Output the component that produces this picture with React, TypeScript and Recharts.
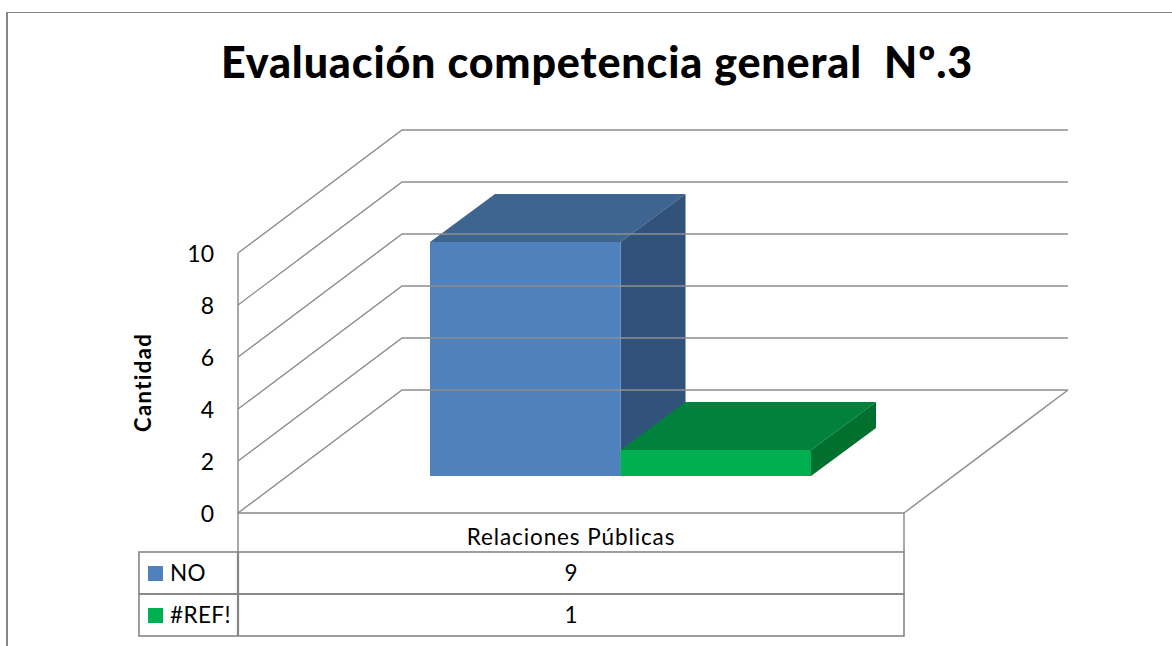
import React from 'react';
import { BarChart, Bar, XAxis, YAxis, ReferenceLine } from 'recharts';

const categories = ['Relaciones Públicas'];
const seriesNames = ['NO', '#REF!'];
const noValues = [9];
const refValues = [1];
const yTicks = [0, 2, 4, 6, 8, 10];

const data = categories.map((category, i) => ({
  category,
  no: noValues[i],
  ref: refValues[i],
}));

const FONT = 'Lato, sans-serif';
const AXIS = '#868686';
const GRID = '#8e8e8e';

// floor depth of the fake 3D box
const FLOOR_DX = 164;
const FLOOR_DY = 123;
// bars stand part way back on the floor
const BAR_DX = 49;
const BAR_DY = 37;
const DEPTH_DX = 65;
const DEPTH_DY = 48;

const box3d = (front: string, top: string, side: string) => (props: any) => {
  const { x, y, width, height } = props;
  const l = x + BAR_DX;
  const t = y - BAR_DY;
  const r = l + width;
  const b = t + height;
  return (
    <g>
      <polygon points={`${l},${t} ${l + DEPTH_DX},${t - DEPTH_DY} ${r + DEPTH_DX},${t - DEPTH_DY} ${r},${t}`} fill={top} />
      <polygon points={`${r},${t} ${r + DEPTH_DX},${t - DEPTH_DY} ${r + DEPTH_DX},${b - DEPTH_DY} ${r},${b}`} fill={side} />
      <rect x={l} y={t} width={width} height={height} fill={front} />
    </g>
  );
};

// wall + back wall gridline for one tick
const WallLine = (props: any) => {
  const { x1, y1, x2 } = props;
  const bx = x1 + FLOOR_DX;
  const by = y1 - FLOOR_DY;
  const backRight = x2 + FLOOR_DX;
  return (
    <g fill="none" stroke={GRID} strokeWidth={1.4}>
      <polyline points={`${x1},${y1} ${bx},${by} ${backRight},${by}`} />
      {y1 > 500 && <polyline points={`${backRight},${by} ${x2},${y1}`} />}
    </g>
  );
};

// category label plus the data table under the axis
const TableTick = (props: any) => {
  const { x, y } = props;
  const left = x - 333;
  const right = x + 333;
  const rowTop = y + 33;
  const rowH = 42;
  const keyLeft = left - 99;
  const colors = ['#4F81BD', '#00B050'];
  const values = [noValues[0], refValues[0]];
  return (
    <g fontFamily={FONT} fontSize={22.5} fill="#000">
      <text x={x} y={y + 26} textAnchor="middle" letterSpacing={0.9}>{categories[0]}</text>
      <line x1={right} y1={y - 6} x2={right} y2={rowTop} stroke={AXIS} strokeWidth={1.4} />
      <line x1={left} y1={y - 6} x2={left} y2={rowTop} stroke={AXIS} strokeWidth={1.4} />
      {seriesNames.map((name, i) => {
        const top = rowTop + i * rowH;
        return (
          <g key={name}>
            <rect x={keyLeft} y={top} width={right - keyLeft} height={rowH} fill="none" stroke={AXIS} strokeWidth={1.6} />
            <line x1={left} y1={top} x2={left} y2={top + rowH} stroke={AXIS} strokeWidth={2.2} />
            <rect x={keyLeft + 9} y={top + 14} width={15} height={15} fill={colors[i]} />
            <text x={keyLeft + 31} y={top + 29} letterSpacing={0.4}>{name}</text>
            <text x={x} y={top + 29} textAnchor="middle">{values[i]}</text>
          </g>
        );
      })}
    </g>
  );
};

export default function App() {
  return (
    <div style={{ position: 'absolute', left: 0, top: 0, width: 1172, height: 646, background: '#fff', overflow: 'hidden' }}>
      <div style={{ position: 'absolute', left: 6, top: 12, width: 1300, height: 800, border: '1px solid #868686', borderLeftWidth: 2 }} />
      <BarChart
        width={1172}
        height={646}
        data={data}
        margin={{ top: 253, right: 268, bottom: 0, left: 138 }}
        barSize={190.5}
        barGap={0}
        style={{ position: 'absolute', left: 0, top: 0 }}
      >
        <XAxis
          dataKey="category"
          height={133}
          axisLine={{ stroke: AXIS, strokeWidth: 1.6 }}
          tickLine={false}
          interval={0}
          tick={<TableTick />}
          tickMargin={0}
        />
        <YAxis
          width={100}
          domain={[0, 10]}
          ticks={yTicks}
          interval={0}
          axisLine={{ stroke: AXIS, strokeWidth: 1.4 }}
          tickLine={false}
          tick={{ fontFamily: FONT, fontSize: 23, fill: '#000', dy: 1 }}
          tickMargin={18}
          label={{
            value: 'Cantidad',
            angle: -90,
            position: 'insideLeft',
            dx: 0,
            dy: 49,
            style: { fontFamily: FONT, fontSize: 22, fontWeight: 700, letterSpacing: 1.4, fill: '#000' },
          }}
        />
        {yTicks.map((t) => (
          <ReferenceLine key={t} y={t} shape={<WallLine />} />
        ))}
        <Bar dataKey="no" isAnimationActive={false} shape={box3d('#4F81BD', '#3E6490', '#31527A')} />
        <Bar dataKey="ref" isAnimationActive={false} shape={box3d('#00B050', '#00823C', '#00702F')} />
      </BarChart>
      <div style={{ position: 'absolute', left: 0, top: 36, width: 1194, textAlign: 'center', fontFamily: FONT, fontSize: 43, fontWeight: 900, letterSpacing: 0.85, color: '#000', whiteSpace: 'pre' }}>
        {'Evaluación competencia general  Nº.3'}
      </div>
    </div>
  );
}
